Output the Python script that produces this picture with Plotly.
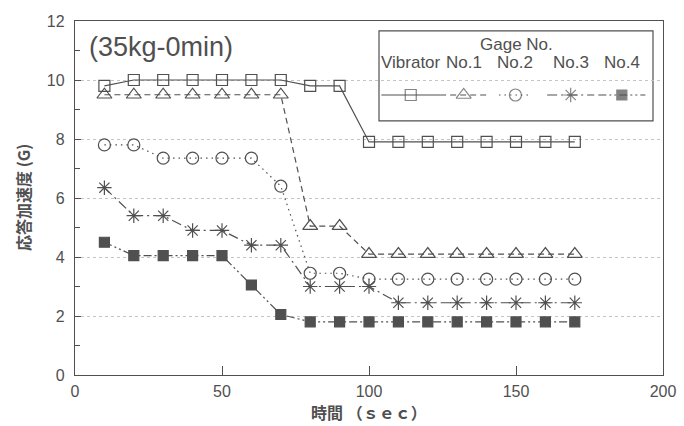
import plotly.graph_objects as go

# ---- data ----
time_sec = [10, 20, 30, 40, 50, 60, 70, 80, 90, 100, 110, 120, 130, 140, 150, 160, 170]
vibrator = [9.8, 10.0, 10.0, 10.0, 10.0, 10.0, 10.0, 9.8, 9.8, 7.9, 7.9, 7.9, 7.9, 7.9, 7.9, 7.9, 7.9]
no1 = [9.5, 9.5, 9.5, 9.5, 9.5, 9.5, 9.5, 5.05, 5.05, 4.1, 4.1, 4.1, 4.1, 4.1, 4.1, 4.1, 4.1]
no2 = [7.8, 7.8, 7.35, 7.35, 7.35, 7.35, 6.4, 3.45, 3.45, 3.25, 3.25, 3.25, 3.25, 3.25, 3.25, 3.25, 3.25]
no3 = [6.35, 5.4, 5.4, 4.9, 4.9, 4.4, 4.4, 3.0, 3.0, 3.0, 2.45, 2.45, 2.45, 2.45, 2.45, 2.45, 2.45]
no4 = [4.5, 4.05, 4.05, 4.05, 4.05, 3.05, 2.05, 1.8, 1.8, 1.8, 1.8, 1.8, 1.8, 1.8, 1.8, 1.8, 1.8]

series_names = ["Vibrator", "No.1", "No.2", "No.3", "No.4"]
series_values = [vibrator, no1, no2, no3, no4]

x_ticks = [0, 50, 100, 150, 200]
y_ticks = [0, 2, 4, 6, 8, 10, 12]

# ---- styles ----
INK = "#505050"
FONT = "Liberation Sans, Arial, Noto Sans CJK JP, sans-serif"
CJK = "Noto Sans CJK JP, sans-serif"
styles = [
    dict(symbol="square-open", size=11, dash="solid", color=INK),
    dict(symbol="triangle-up-open", size=13, dash="6px,4px", color=INK),
    dict(symbol="circle-open", size=12, dash="1.5px,4px", color=INK),
    dict(symbol="asterisk-open", size=12, dash="10px,4px,2px,4px", color=INK),
    dict(symbol="square", size=10, dash="8px,3px,2px,3px,2px,3px", color=INK),
]

fig = go.Figure()
for name, vals, st in zip(series_names, series_values, styles):
    fig.add_trace(go.Scatter(
        x=time_sec, y=vals, name=name, mode="lines+markers",
        line=dict(color=st["color"], width=1.2, dash=st["dash"]),
        marker=dict(symbol=st["symbol"], size=st["size"], color=st["color"],
                    line=dict(color=st["color"], width=1.2)),
        showlegend=False,
    ))

# ---- manual legend (overlay axes in fraction coords of the plot area) ----
leg_x0, leg_x1, leg_y0, leg_y1 = 0.517, 0.983, 0.718, 0.972
leg_centers = [0.571, 0.661, 0.749, 0.843, 0.930]
leg_half = [0.05, 0.04, 0.028, 0.04, 0.04]
leg_row_text = 0.884
leg_row_sym = 0.791
for name, st, cx, hw in zip(series_names, styles, leg_centers, leg_half):
    fig.add_trace(go.Scatter(
        x=[cx - hw, cx, cx + hw], y=[leg_row_sym] * 3, xaxis="x2", yaxis="y2",
        mode="lines+markers",
        line=dict(color=st["color"], width=1.2, dash=st["dash"]),
        marker=dict(symbol=st["symbol"], size=[0, st["size"], 0], color=st["color"],
                    line=dict(color=st["color"], width=1.2)),
        showlegend=False, hoverinfo="skip",
    ))
    fig.add_annotation(x=cx, y=leg_row_text, xref="x2", yref="y2", text=name,
                       showarrow=False, font=dict(size=17, color=INK, family=FONT))
fig.add_annotation(x=(leg_x0 + leg_x1) / 2, y=0.934, xref="x2", yref="y2", text="Gage No.",
                   showarrow=False, font=dict(size=17, color=INK, family=FONT))
fig.add_shape(type="rect", xref="x2", yref="y2", x0=leg_x0, x1=leg_x1, y0=leg_y0, y1=leg_y1,
              line=dict(color=INK, width=1.2), fillcolor="white", layer="below")

# title inside plot
fig.add_annotation(x=0.02, y=0.927, xref="x2", yref="y2", text="(35kg-0min)",
                   xanchor="left", showarrow=False,
                   font=dict(size=27, color=INK, family=FONT))

# axis titles
fig.add_annotation(x=0.5, y=0, xref="paper", yref="paper", yshift=-37,
                   xanchor="center", yanchor="middle",
                   text="<b>時間 （ｓｅｃ）</b>",
                   showarrow=False, font=dict(size=16, color=INK, family=CJK))
fig.add_annotation(x=0, y=0.5, xref="paper", yref="paper", xshift=-52,
                   xanchor="center", yanchor="middle",
                   text="<b>応答加速度 (G)</b>",
                   textangle=-90, showarrow=False, font=dict(size=16, color=INK, family=CJK))

fig.update_layout(
    width=684, height=426,
    margin=dict(l=75, r=21, t=21, b=51, autoexpand=False),
    paper_bgcolor="white", plot_bgcolor="white",
    font=dict(family=FONT, color=INK, size=16),
    xaxis=dict(range=[0, 200], tickvals=x_ticks, ticks="inside", ticklen=9, tickcolor=INK,
               showline=True, linecolor=INK, linewidth=1.3, mirror=True, showgrid=False,
               zeroline=False, automargin=False, ticklabelstandoff=2),
    yaxis=dict(range=[0, 12], tickvals=y_ticks, ticks="inside", ticklen=6, tickcolor=INK,
               showline=True, linecolor=INK, linewidth=1.3, mirror=True,
               showgrid=True, gridcolor="#c4c4c4", griddash="dot", gridwidth=1,
               zeroline=False, ticklabelstandoff=6, automargin=False,
               minor=dict(dtick=1, ticks="inside", ticklen=5, tickcolor=INK, showgrid=False)),
    xaxis2=dict(range=[0, 1], overlaying="x", visible=False, domain=[0, 1]),
    yaxis2=dict(range=[0, 1], overlaying="y", visible=False),
)

fig.write_html("out.html", config={"displayModeBar": False},
               post_script="document.body.style.margin='0px';")
